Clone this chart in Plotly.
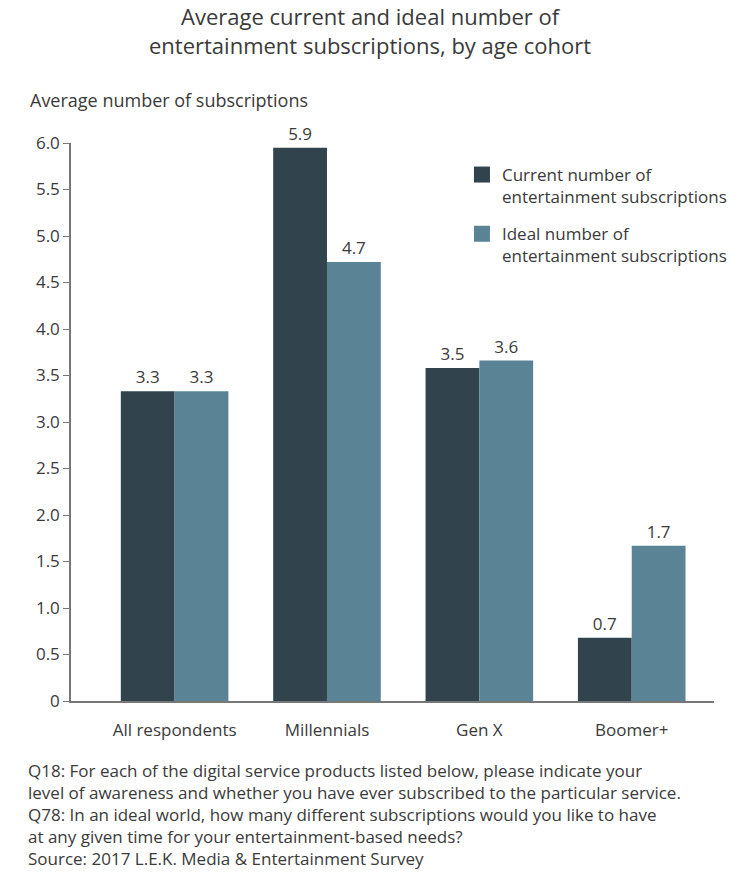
import plotly.graph_objects as go

categories = ["All respondents", "Millennials", "Gen X", "Boomer+"]
current_vals = [3.33, 5.95, 3.58, 0.68]
ideal_vals = [3.33, 4.72, 3.66, 1.67]
current_labels = ["3.3", "5.9", "3.5", "0.7"]
ideal_labels = ["3.3", "4.7", "3.6", "1.7"]
series_names = ["Current number of<br>entertainment subscriptions",
                "Ideal number of<br>entertainment subscriptions"]
y_tickvals = [0, 0.5, 1.0, 1.5, 2.0, 2.5, 3.0, 3.5, 4.0, 4.5, 5.0, 5.5, 6.0]
y_ticktext = ["0", "0.5", "1.0", "1.5", "2.0", "2.5", "3.0", "3.5", "4.0", "4.5", "5.0", "5.5", "6.0"]

FONT = "Open Sans"
TXT = "#3a3a3a"
DARK = "#31444d"
LIGHT = "#5a8396"
COLORS = [DARK, LIGHT]

W, H = 744, 882
L, R, T, B = 71, 25, 143, 181
PW, PH = W - L - R, H - T - B

fig = go.Figure()
for vals, labels, col, nm in [(current_vals, current_labels, DARK, series_names[0]),
                              (ideal_vals, ideal_labels, LIGHT, series_names[1])]:
    fig.add_trace(go.Bar(
        x=list(range(len(categories))), y=vals, text=labels, name=nm,
        marker=dict(color=col, line=dict(width=0)),
        textposition="outside", textfont=dict(size=17, color=TXT, family=FONT),
        cliponaxis=False, showlegend=False, hoverinfo="skip",
    ))
# legend entries (large square swatches)
for i, (col, nm) in enumerate(zip(COLORS, series_names)):
    fig.add_trace(go.Scatter(
        x=[None], y=[None], mode="markers", name=nm, legendgroup=f"g{i}",
        marker=dict(symbol="square", size=17, color=col),
        showlegend=True,
    ))

fig.update_layout(
    width=W, height=H,
    margin=dict(l=L, r=R, t=T, b=B),
    paper_bgcolor="white", plot_bgcolor="white",
    font=dict(family=FONT, color=TXT, size=17),
    barmode="group", bargap=0.294, bargroupgap=0,
    showlegend=True,
    legend=dict(x=(465 - L) / PW, y=1 - (157 - T) / PH, xanchor="left", yanchor="top",
                font=dict(size=17, color=TXT, family=FONT),
                bgcolor="rgba(0,0,0,0)", tracegroupgap=12, itemwidth=30,
                itemsizing="trace", valign="top", traceorder="grouped"),
    xaxis=dict(tickvals=list(range(len(categories))), ticktext=categories,
               range=[-0.68, 3.54], showline=True, linecolor="#777", linewidth=1.5,
               ticks="", showgrid=False, zeroline=False,
               tickfont=dict(size=17, color=TXT), ticklabelstandoff=13),
    yaxis=dict(range=[0, 6.0], tickvals=y_tickvals, ticktext=y_ticktext,
               showline=True, linecolor="#777", linewidth=1.5,
               ticks="outside", ticklen=6, tickcolor="#777",
               showgrid=False, zeroline=False,
               tickfont=dict(size=17, color=TXT)),
)

fig.add_annotation(text="Average current and ideal number of<br>entertainment subscriptions, by age cohort",
                   xref="paper", yref="paper",
                   x=(372 - L) / PW, y=1 + (T - 30) / PH, xanchor="center", yanchor="middle",
                   align="center", showarrow=False, font=dict(size=22, color=TXT, family=FONT))

fig.add_annotation(text="Average number of subscriptions", xref="paper", yref="paper",
                   x=(28 - L) / PW, y=1 + (T - 100) / PH, xanchor="left", yanchor="middle",
                   showarrow=False, font=dict(size=18, color=TXT, family=FONT))

foot = ("Q18: For each of the digital service products listed below, please indicate your<br>"
        "level of awareness and whether you have ever subscribed to the particular service.<br>"
        "Q78: In an ideal world, how many different subscriptions would you like to have<br>"
        "at any given time for your entertainment-based needs?<br>"
        "Source: 2017 L.E.K. Media & Entertainment Survey")
fig.add_annotation(text=foot, xref="paper", yref="paper",
                   x=(26 - L) / PW, y=-(757 - (H - B)) / PH, xanchor="left", yanchor="top",
                   align="left", showarrow=False,
                   font=dict(size=17, color=TXT, family=FONT))

fig.write_html("out.html", config={"displayModeBar": False},
               post_script="document.body.style.margin='0';")
